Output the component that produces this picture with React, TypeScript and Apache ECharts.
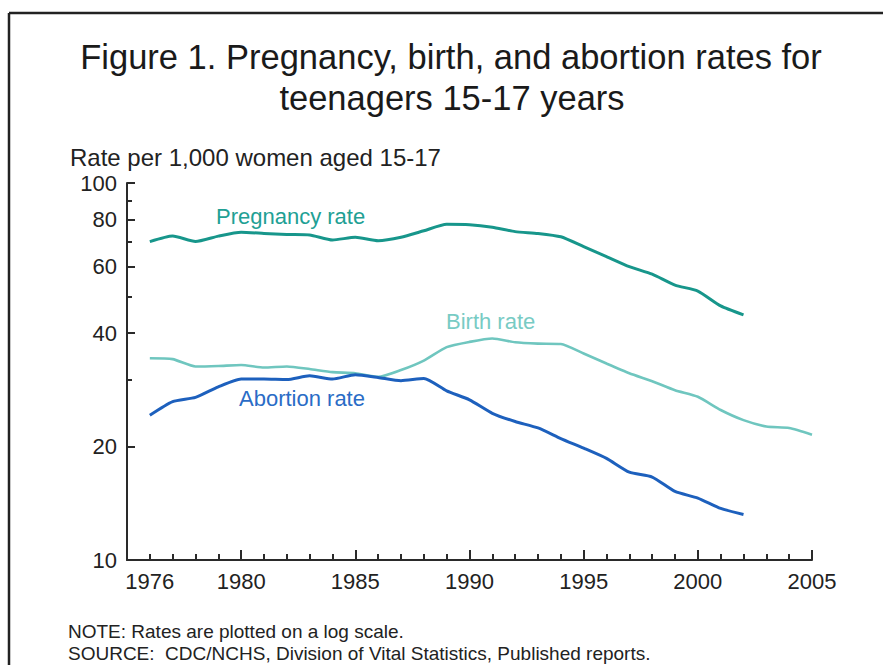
import React, { useEffect, useRef } from "react";
import * as echarts from "echarts";

const years = [1976,1977,1978,1979,1980,1981,1982,1983,1984,1985,1986,1987,1988,1989,1990,1991,1992,1993,1994,1995,1996,1997,1998,1999,2000,2001,2002,2003,2004,2005];
const pregnancyRate = [69.9,72.3,70.0,72.3,74.0,73.5,73.0,72.8,70.6,71.8,70.3,71.8,74.7,77.7,77.5,76.3,74.3,73.5,72.0,67.8,63.8,60.0,57.3,53.6,51.7,47.2,44.7];
const birthRate = [34.3,34.1,32.6,32.7,32.9,32.4,32.6,32.1,31.5,31.3,30.6,31.9,33.8,36.7,37.9,38.7,37.8,37.5,37.4,35.3,33.2,31.3,29.8,28.2,27.1,25.0,23.5,22.6,22.4,21.5];
const abortionRate = [24.2,26.3,27.0,28.8,30.2,30.2,30.1,30.8,30.2,31.0,30.5,29.9,30.3,28.1,26.6,24.5,23.3,22.4,21.0,19.8,18.6,17.1,16.6,15.2,14.6,13.7,13.2];

const yLabelValues = [10, 20, 40, 60, 80, 100];
const yMinorTicks = [30, 50, 70, 90];
const xLabelValues = [1976, 1980, 1985, 1990, 1995, 2000, 2005];
const xMajorTicks = [1980, 1985, 1990, 1995, 2000, 2005];

const titleLines = ["Figure 1. Pregnancy, birth, and abortion rates for", "teenagers 15-17 years"];
const yAxisTitle = "Rate per 1,000 women aged 15-17";
const seriesNames = ["Pregnancy rate", "Birth rate", "Abortion rate"];
const notes = ["NOTE: Rates are plotted on a log scale.", "SOURCE:  CDC/NCHS, Division of Vital Statistics, Published reports."];

const pair = (vals: number[]) => vals.map((v, i) => [years[i], v]);

const FONT = "'Liberation Sans', Arial, Helvetica, sans-serif";
const C_PREG = "#17968b";
const C_BIRTH = "#6fc6bf";
const C_ABORT = "#1d60bd";
const AX = "#2a2a2a";

export default function App() {
  const ref = useRef<HTMLDivElement>(null);
  useEffect(() => {
    if (!ref.current) return;
    const chart = echarts.init(ref.current, null, { renderer: "svg" });
    const baseX = {
      type: "value",
      min: 1975,
      max: 2005,
      splitLine: { show: false },
    };
    const baseY = {
      type: "log",
      logBase: 10,
      min: 10,
      max: 100,
      splitLine: { show: false },
      minorTick: { show: false },
    };
    chart.setOption({
      animation: false,
      backgroundColor: "#ffffff",
      grid: { left: 127, top: 183, right: 71, bottom: 105, containLabel: false },
      xAxis: [
        {
          ...baseX,
          axisLine: { show: true, lineStyle: { color: AX, width: 2 } },
          axisTick: { show: true, inside: true, length: 6, lineStyle: { color: AX, width: 2 }, customValues: years },
          axisLabel: { show: true, customValues: xLabelValues, formatter: (v: number) => String(Math.round(v)), fontSize: 22, color: "#222", fontFamily: FONT, margin: 10 },
        },
        {
          ...baseX,
          position: "bottom",
          axisLine: { show: false },
          axisTick: { show: true, inside: true, length: 10, lineStyle: { color: AX, width: 2 }, customValues: xMajorTicks },
          axisLabel: { show: false },
        },
      ],
      yAxis: [
        {
          ...baseY,
          axisLine: { show: true, lineStyle: { color: AX, width: 2 } },
          axisTick: { show: true, inside: true, length: 8, lineStyle: { color: AX, width: 2 }, customValues: yLabelValues },
          axisLabel: { show: true, customValues: yLabelValues, formatter: (v: number) => String(Math.round(v)), fontSize: 22, color: "#222", fontFamily: FONT, margin: 10 },
        },
        {
          ...baseY,
          position: "left",
          axisLine: { show: false },
          axisTick: { show: true, inside: true, length: 5, lineStyle: { color: AX, width: 2 }, customValues: yMinorTicks },
          axisLabel: { show: false },
        },
      ],
      series: [
        {
          name: seriesNames[0], type: "line", xAxisIndex: 0, yAxisIndex: 0,
          data: pair(pregnancyRate), showSymbol: false, smooth: 0.2,
          lineStyle: { color: C_PREG, width: 3 },
        },
        {
          name: seriesNames[1], type: "line", xAxisIndex: 0, yAxisIndex: 0,
          data: pair(birthRate), showSymbol: false, smooth: 0.2,
          lineStyle: { color: C_BIRTH, width: 2.6 },
        },
        {
          name: seriesNames[2], type: "line", xAxisIndex: 0, yAxisIndex: 0,
          data: pair(abortionRate), showSymbol: false, smooth: 0.2,
          lineStyle: { color: C_ABORT, width: 3 },
        },
      ],
      graphic: [
        { type: "line", shape: { x1: 9, y1: 13, x2: 883, y2: 13 }, style: { stroke: "#222", lineWidth: 2.5 } },
        { type: "line", shape: { x1: 9, y1: 13, x2: 9, y2: 665 }, style: { stroke: "#222", lineWidth: 2.5 } },
        { type: "text", x: 451, y: 57, style: { text: titleLines[0], font: `34.5px ${FONT}`, fill: "#1a1a1a", textAlign: "center", textVerticalAlign: "middle" } },
        { type: "text", x: 452, y: 98, style: { text: titleLines[1], font: `34.5px ${FONT}`, fill: "#1a1a1a", textAlign: "center", textVerticalAlign: "middle" } },
        { type: "text", x: 70, y: 157, style: { text: yAxisTitle, font: `24px ${FONT}`, fill: "#222", textAlign: "left", textVerticalAlign: "middle" } },
        { type: "text", x: 216, y: 216, style: { text: seriesNames[0], font: `22px ${FONT}`, fill: "#21a094", textAlign: "left", textVerticalAlign: "middle" } },
        { type: "text", x: 446, y: 321, style: { text: seriesNames[1], font: `22px ${FONT}`, fill: "#78cbc4", textAlign: "left", textVerticalAlign: "middle" } },
        { type: "text", x: 239, y: 398, style: { text: seriesNames[2], font: `22px ${FONT}`, fill: "#2a6cc6", textAlign: "left", textVerticalAlign: "middle" } },
        { type: "text", x: 68, y: 631, style: { text: notes[0], font: `19px ${FONT}`, fill: "#222", textAlign: "left", textVerticalAlign: "middle" } },
        { type: "text", x: 68, y: 653, style: { text: notes[1], font: `19px ${FONT}`, fill: "#222", textAlign: "left", textVerticalAlign: "middle" } },
      ],
    });
    return () => chart.dispose();
  }, []);
  return <div ref={ref} style={{ position: "fixed", left: 0, top: 0, width: 883, height: 665 }} />;
}
